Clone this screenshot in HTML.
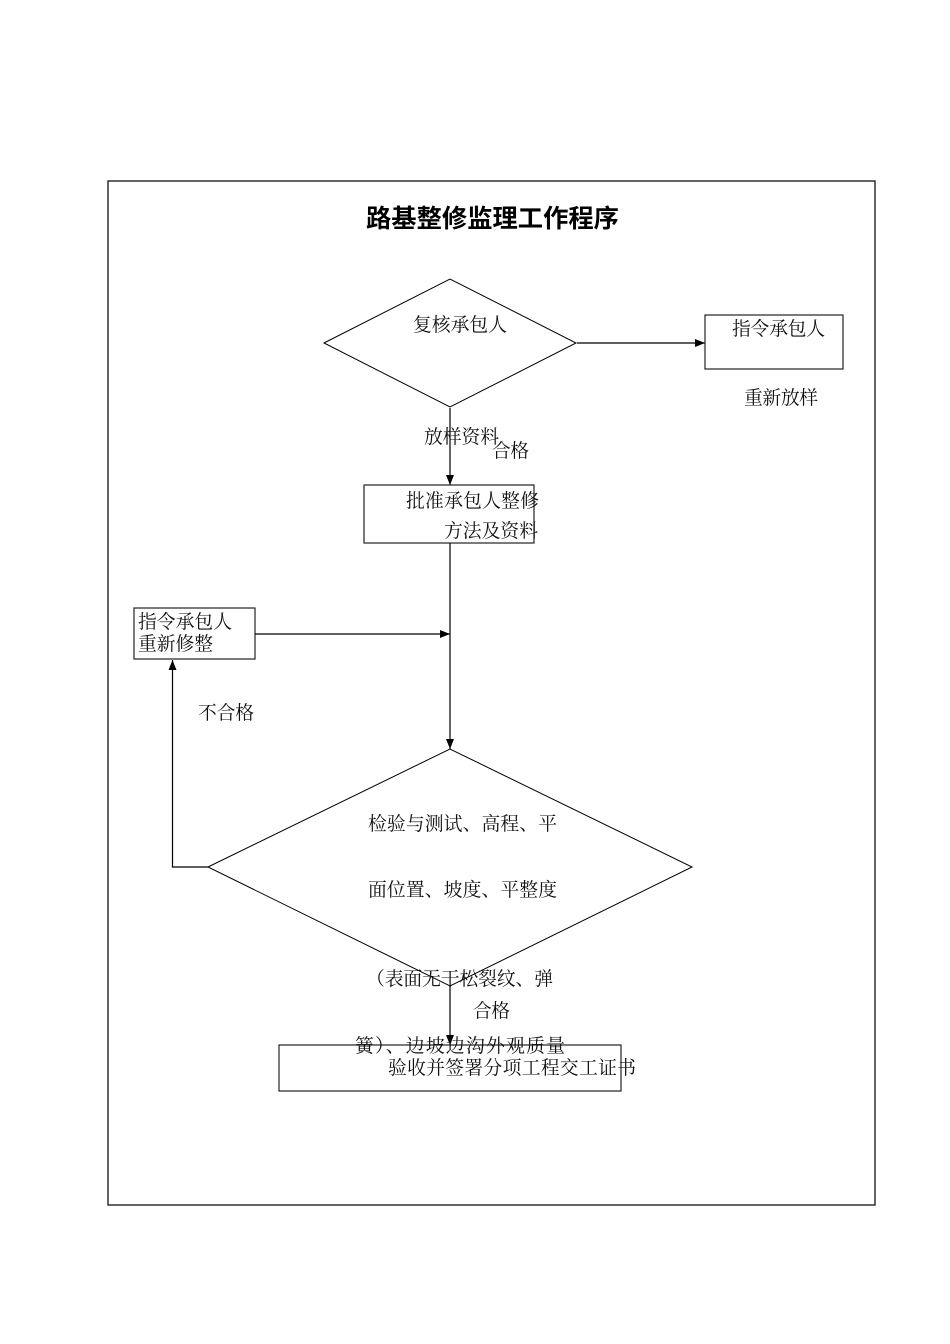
<!DOCTYPE html>
<html>
<head>
<meta charset="utf-8">
<style>
  html,body{margin:0;padding:0;background:#fff;}
  svg{display:block;}
  .t{font-family:"Liberation Serif","Noto Serif CJK SC","Noto Sans CJK SC",serif;font-size:18.8px;fill:#111;}
  .ttl{font-family:"Liberation Sans","Noto Sans CJK SC",sans-serif;font-size:25px;font-weight:bold;fill:#000;}
</style>
</head>
<body>
<svg width="950" height="1344" viewBox="0 0 950 1344" xmlns="http://www.w3.org/2000/svg">
  <defs>
    <marker id="ah" markerWidth="10" markerHeight="8" refX="10" refY="4" orient="auto" markerUnits="userSpaceOnUse">
      <path d="M0,0 L10,4 L0,8 Z" fill="#000"/>
    </marker>
  </defs>

  <!-- outer frame -->
  <rect x="108" y="181" width="767" height="1024" fill="none" stroke="#222" stroke-width="1.4"/>

  <!-- title -->
  <text class="ttl" x="366" y="227" textLength="253" lengthAdjust="spacingAndGlyphs">路基整修监理工作程序</text>

  <!-- diamond 1 -->
  <polygon points="324,343 450,279 576,343 450,407" fill="none" stroke="#000" stroke-width="1"/>
  <text class="t" x="413" y="331" textLength="94">复核承包人</text>

  <!-- arrow to right box -->
  <line x1="577" y1="343" x2="705" y2="343" stroke="#000" stroke-width="1.2" marker-end="url(#ah)"/>
  <rect x="705" y="315" width="138" height="54" fill="none" stroke="#222" stroke-width="1.2"/>
  <text class="t" x="732" y="335" textLength="93">指令承包人</text>
  <text class="t" x="744" y="404" textLength="74">重新放样</text>

  <!-- down to approve box -->
  <line x1="450" y1="408" x2="450" y2="485" stroke="#000" stroke-width="1.2" marker-end="url(#ah)"/>
  <text class="t" x="424" y="443" textLength="75">放样资料</text>
  <text class="t" x="492" y="457" textLength="37">合格</text>

  <rect x="364" y="485" width="170" height="58" fill="none" stroke="#222" stroke-width="1.2"/>
  <text class="t" x="406" y="507" textLength="133">批准承包人整修</text>
  <text class="t" x="444" y="537" textLength="94">方法及资料</text>

  <!-- down to diamond 2 -->
  <line x1="450" y1="543" x2="450" y2="749" stroke="#000" stroke-width="1.2" marker-end="url(#ah)"/>

  <!-- left box -->
  <rect x="134" y="608" width="121" height="51" fill="none" stroke="#222" stroke-width="1.2"/>
  <text class="t" x="138" y="628" textLength="94">指令承包人</text>
  <text class="t" x="138" y="650" textLength="75">重新修整</text>
  <line x1="255" y1="634" x2="450" y2="634" stroke="#000" stroke-width="1.2" marker-end="url(#ah)"/>

  <!-- fail loop -->
  <polyline points="208,867 172.5,867 172.5,660" fill="none" stroke="#000" stroke-width="1.2" marker-end="url(#ah)"/>
  <text class="t" x="198" y="719" textLength="56">不合格</text>

  <!-- diamond 2 -->
  <polygon points="208,867 450,749 692,867 450,986" fill="none" stroke="#000" stroke-width="1"/>
  <text class="t" x="368" y="830" textLength="189">检验与测试、高程、平</text>
  <text class="t" x="368" y="896" textLength="189">面位置、坡度、平整度</text>
  <text class="t" x="366" y="985" textLength="187">（表面无干松裂纹、弹</text>

  <!-- down to final box -->
  <line x1="450" y1="986" x2="450" y2="1045" stroke="#000" stroke-width="1.2" marker-end="url(#ah)"/>
  <text class="t" x="473" y="1017" textLength="37">合格</text>

  <rect x="279" y="1045" width="342" height="46" fill="none" stroke="#222" stroke-width="1.2"/>
  <text class="t" x="355" y="1052" textLength="210">簧）、边坡边沟外观质量</text>
  <text class="t" x="388" y="1074" textLength="248">验收并签署分项工程交工证书</text>
</svg>
</body>
</html>
